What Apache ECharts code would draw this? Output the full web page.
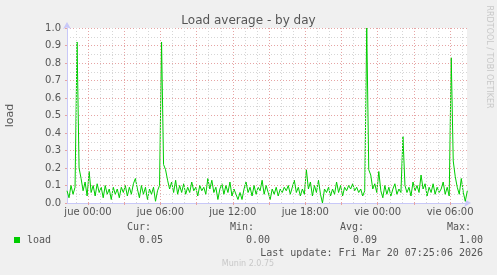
<!DOCTYPE html>
<html>
<head>
<meta charset="utf-8">
<script src="https://cdn.jsdelivr.net/npm/echarts@6/dist/echarts.min.js"></script>
<style>
html,body{margin:0;padding:0;background:#f0f0f0;}
#chart{width:497px;height:275px;}
</style>
</head>
<body>
<div id="chart"></div>
<script>
// ---- data ----
const startHour = -1.74;          // hours relative to "jue 00:00"
const stepHours = 1 / 6;          // 10 minute samples
const loadValues = [
  0.07,0.03,0.10,0.05,0.09,0.92,0.20,0.14,0.07,0.12,
  0.04,0.18,0.06,0.10,0.04,0.11,0.06,0.09,0.03,0.10,
  0.05,0.08,0.02,0.09,0.05,0.08,0.03,0.09,0.06,0.10,
  0.04,0.09,0.05,0.11,0.14,0.08,0.03,0.10,0.05,0.09,
  0.02,0.08,0.05,0.09,0.01,0.07,0.10,0.92,0.22,0.19,
  0.13,0.08,0.12,0.06,0.13,0.05,0.10,0.06,0.11,0.05,
  0.09,0.06,0.12,0.07,0.09,0.04,0.10,0.07,0.09,0.05,
  0.14,0.08,0.13,0.06,0.09,0.02,0.08,0.11,0.05,0.10,
  0.06,0.12,0.04,0.08,0.05,0.02,0.06,0.02,0.08,0.12,
  0.06,0.09,0.04,0.10,0.05,0.09,0.07,0.13,0.05,0.10,
  0.06,0.02,0.08,0.05,0.09,0.04,0.08,0.06,0.09,0.07,
  0.10,0.05,0.09,0.13,0.06,0.09,0.04,0.08,0.05,0.19,
  0.08,0.12,0.04,0.10,0.06,0.13,0.05,0.00,0.08,0.06,
  0.09,0.04,0.08,0.05,0.12,0.06,0.10,0.04,0.09,0.07,
  0.10,0.08,0.11,0.07,0.09,0.06,0.08,0.04,0.07,1.00,
  0.19,0.16,0.08,0.11,0.06,0.18,0.07,0.03,0.10,0.05,
  0.09,0.04,0.08,0.11,0.05,0.08,0.06,0.38,0.10,0.06,
  0.09,0.04,0.12,0.07,0.10,0.06,0.16,0.08,0.11,0.04,
  0.09,0.06,0.11,0.05,0.09,0.06,0.08,0.12,0.05,0.09,
  0.04,0.83,0.24,0.15,0.09,0.05,0.14,0.06,0.01,0.07
];
const xLabelHours = [0, 6, 12, 18, 24, 30];
const xLabelTexts = ['jue 00:00', 'jue 06:00', 'jue 12:00', 'jue 18:00', 'vie 00:00', 'vie 06:00'];
const majorGridHours = [0, 3, 6, 9, 12, 15, 18, 21, 24, 27, 30];
const minorGridHours = [-1, 1, 2, 4, 5, 7, 8, 10, 11, 13, 14, 16, 17, 19, 20, 22, 23, 25, 26, 28, 29, 31];
const statLabels = ['Cur:', 'Min:', 'Avg:', 'Max:'];
const statValues = ['0.05', '0.00', '0.09', '1.00'];
const lastUpdate = 'Last update: Fri Mar 20 07:25:06 2026';

// ---- chart ----
const seriesData = loadValues.map((v, i) => [startHour + i * stepHours, v]);
const RED = '#e6a4a4', GRAY = '#d6d6d6';
const mono = 'DejaVu Sans Mono';
const statLabelRight = [151, 254, 364, 471];
const statValueRight = [163, 270, 377, 483];
const graphics = [];
statLabels.forEach((t, i) => graphics.push({type:'text', silent:true, style:{text:t, x:statLabelRight[i], y:227, align:'right', verticalAlign:'middle', font:'10px "' + mono + '"', fill:'#555'}}));
statValues.forEach((t, i) => graphics.push({type:'text', silent:true, style:{text:t, x:statValueRight[i], y:240, align:'right', verticalAlign:'middle', font:'10px "' + mono + '"', fill:'#555'}}));
graphics.push({type:'text', silent:true, style:{text:lastUpdate, x:483, y:253, align:'right', verticalAlign:'middle', font:'10px "' + mono + '"', fill:'#555'}});
graphics.push({type:'text', silent:true, style:{text:'Munin 2.0.75', x:248, y:264, align:'center', verticalAlign:'middle', font:'8px "DejaVu Sans"', fill:'#c8c8c8'}});
graphics.push({type:'text', silent:true, x:489, y:57, rotation:-Math.PI/2, style:{text:'RRDTOOL / TOBI OETIKER', x:0, y:0, align:'center', verticalAlign:'middle', font:'8px "DejaVu Sans"', fill:'#c8c8c8'}});

const chart = echarts.init(document.getElementById('chart'), null, {renderer:'canvas'});
chart.setOption({
  animation: false,
  backgroundColor: '#f0f0f0',
  title: {text:'Load average - by day', left:'center', top:10, textStyle:{fontFamily:'DejaVu Sans', fontSize:12, fontWeight:'normal', color:'#555'}},
  legend: {data:['load'], left:14, top:235, icon:'rect', itemWidth:6, itemHeight:6, padding:0, textStyle:{fontFamily:mono, fontSize:10, color:'#555', padding:[0,0,0,2]}},
  grid: {left:67, right:30, top:28, bottom:72, outerBoundsMode:'none', containLabel:false, show:true, backgroundColor:'#ffffff', borderWidth:0},
  xAxis: {
    type:'value', min:-1.74, max:31.40,
    splitLine:{show:false},
    axisLine:{show:true, onZero:false, lineStyle:{color:'#c8c8f8', width:1}, symbol:['none','arrow'], symbolSize:[6,7], symbolOffset:[0,4]},
    axisTick:{show:true, customValues:majorGridHours, length:2, lineStyle:{color:RED}},
    axisLabel:{customValues:xLabelHours, formatter:(v) => xLabelTexts[xLabelHours.indexOf(v)] || '', fontFamily:'DejaVu Sans', fontSize:10, color:'#555', margin:4}
  },
  yAxis: {
    type:'value', min:0, max:1, interval:0.1,
    name:'load', nameLocation:'middle', nameGap:51, nameTextStyle:{fontFamily:'DejaVu Sans', fontSize:11, color:'#555'},
    axisLine:{show:true, onZero:false, lineStyle:{color:'#c8c8f8', width:1}, symbol:['none','arrow'], symbolSize:[6,7], symbolOffset:[0,6]},
    axisTick:{show:true, length:2, lineStyle:{color:RED}},
    axisLabel:{formatter:(v) => v.toFixed(1), fontFamily:'DejaVu Sans', fontSize:10, color:'#555', margin:6},
    splitLine:{show:true, lineStyle:{color:RED, type:[1,2], width:1}},
    minorTick:{show:false, splitNumber:2},
    minorSplitLine:{show:true, lineStyle:{color:GRAY, type:[1,2], width:1}}
  },
  series: [
    {
      name:'grid', type:'line', data:[], z:1, silent:true,
      markLine:{silent:true, symbol:['none','none'], label:{show:false}, animation:false,
        data: majorGridHours.map(h => ({xAxis:h, lineStyle:{color:RED, type:[1,2], width:1}}))
          .concat(minorGridHours.map(h => ({xAxis:h, lineStyle:{color:GRAY, type:[1,2], width:1}})))}
    },
    {
      name:'load', type:'line', data:seriesData, showSymbol:false, z:3,
      lineStyle:{color:'#00cc00', width:1}, itemStyle:{color:'#00cc00'}
    }
  ],
  graphic: graphics
});
</script>
</body>
</html>
